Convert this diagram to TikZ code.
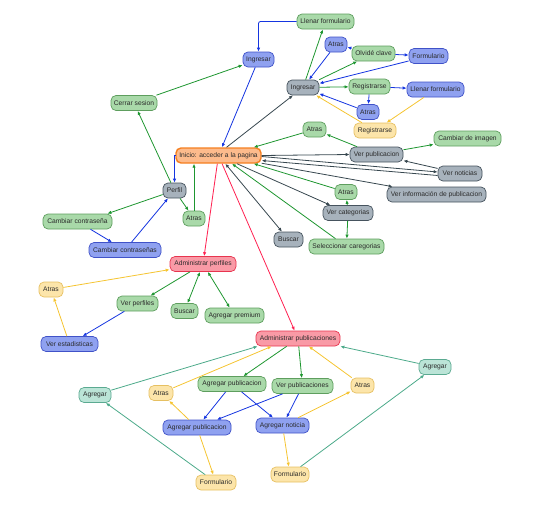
\documentclass[tikz,border=0pt]{standalone}
\usepackage{fontspec}
\setmainfont{Liberation Sans}
\usetikzlibrary{arrows.meta}
\definecolor{txt}{HTML}{2A2A2A}
\definecolor{gfill}{HTML}{A9D9A9}
\definecolor{gdraw}{HTML}{5E9E5E}
\definecolor{bfill}{HTML}{8FA1F0}
\definecolor{bdraw}{HTML}{4052C8}
\definecolor{sfill}{HTML}{A7B2BC}
\definecolor{sdraw}{HTML}{46535E}
\definecolor{ofill}{HTML}{FDBB8C}
\definecolor{odraw}{HTML}{F57F20}
\definecolor{rfill}{HTML}{F99AA6}
\definecolor{rdraw}{HTML}{E8344F}
\definecolor{yfill}{HTML}{FCE5AA}
\definecolor{ydraw}{HTML}{E6C062}
\definecolor{tfill}{HTML}{BBE4D7}
\definecolor{tdraw}{HTML}{5BAA91}
\definecolor{egc}{HTML}{1E9630}
\definecolor{ebc}{HTML}{1535E0}
\definecolor{esc}{HTML}{37474F}
\definecolor{erc}{HTML}{FF2050}
\definecolor{eyc}{HTML}{F5C431}
\definecolor{etc}{HTML}{4CAA8A}
\begin{document}
\begin{tikzpicture}[x=1pt,y=-1pt,
  box/.style={draw, rounded corners=5pt, minimum height=15pt, inner xsep=1.5pt, inner ysep=1pt,
    font=\fontsize{6.7}{7.5}\selectfont, text=txt, line width=0.7pt},
  gn/.style={box, fill=gfill, draw=gdraw},
  bn/.style={box, fill=bfill, draw=bdraw},
  sn/.style={box, fill=sfill, draw=sdraw},
  on/.style={box, fill=ofill, draw=odraw, line width=1.4pt},
  rn/.style={box, fill=rfill, draw=rdraw},
  yn/.style={box, fill=yfill, draw=ydraw},
  tn/.style={box, fill=tfill, draw=tdraw},
  conn/.style={line width=0.8pt, -{Latex[length=4pt,width=3.4pt]}},
  conn2/.style={line width=0.8pt, {Latex[length=4pt,width=3.4pt]}-{Latex[length=4pt,width=3.4pt]}},
  eg/.style={conn, draw=egc}, eg2/.style={conn2, draw=egc},
  eb/.style={conn, draw=ebc},
  es/.style={conn, draw=esc}, es2/.style={conn2, draw=esc},
  er/.style={conn, draw=erc},
  ey/.style={conn, draw=eyc},
  et/.style={conn, draw=etc}]
\useasboundingbox (0,0) rectangle (540,507);
% nodes
\node[gn, minimum width=57pt] (lfg) at (325.5,21.5) {Llenar formulario};
\node[bn, minimum width=31pt] (ingb) at (258.5,59.5) {Ingresar};
\node[gn, minimum width=46pt] (cerrar) at (134,103) {Cerrar sesion};
\node[sn, minimum width=32pt] (ingg) at (303,87.5) {Ingresar};
\node[bn, minimum width=22pt] (atrb1) at (336,44.5) {Atras};
\node[gn, minimum width=43pt] (olv) at (373.5,53.5) {Olvidé clave};
\node[bn, minimum width=39pt] (formb) at (428.5,56) {Formulario};
\node[gn, minimum width=41pt] (regg) at (369.5,86.5) {Registrarse};
\node[bn, minimum width=57pt] (lfb) at (435.5,89.5) {Llenar formulario};
\node[bn, minimum width=22pt] (atrb2) at (368,112) {Atras};
\node[yn, minimum width=42pt] (regy) at (375,130.5) {Registrarse};
\node[gn, minimum width=23pt] (atrg1) at (314.5,129.5) {Atras};
\node[gn, minimum width=67pt] (camimg) at (467.5,138.5) {Cambiar de imagen};
\node[on, minimum width=85pt] (inicio) at (218.5,155.5) {Inicio: acceder a la pagina};
\node[sn, minimum width=53pt] (vpub) at (376.5,154.5) {Ver publicacion};
\node[sn, minimum width=44pt] (vnot) at (460,173.5) {Ver noticias};
\node[sn, minimum width=99pt] (vinfo) at (436.5,194.5) {Ver información de publicacion};
\node[gn, minimum width=22pt] (atrvc) at (346,192) {Atras};
\node[sn, minimum width=50pt] (vcat) at (348,213) {Ver categorias};
\node[gn, minimum width=75pt] (selcat) at (346.5,246.5) {Seleccionar caregorias};
\node[sn, minimum width=29pt] (buscar1) at (288.5,239.5) {Buscar};
\node[sn, minimum width=23pt] (perfil) at (174.5,190.5) {Perfil};
\node[gn, minimum width=22pt] (atrp) at (194,218.5) {Atras};
\node[gn, minimum width=69pt] (ccontra) at (77.5,221.5) {Cambiar contraseña};
\node[bn, minimum width=72pt] (ccontras) at (125,250) {Cambiar contraseñas};
\node[rn, minimum width=66pt] (admperf) at (203,264) {Administrar perfiles};
\node[yn, minimum width=24pt] (atry1) at (51,289.5) {Atras};
\node[gn, minimum width=41pt] (vperf) at (137.5,303.5) {Ver perfiles};
\node[gn, minimum width=27pt] (buscar2) at (184.5,311) {Buscar};
\node[gn, minimum width=59pt] (agprem) at (234.5,315.5) {Agregar premium};
\node[bn, minimum width=57pt] (vest) at (69.5,344) {Ver estadisticas};
\node[rn, minimum width=84pt] (admpub) at (298,338.5) {Administrar publicaciones};
\node[tn, minimum width=32pt] (agrt2) at (435,367) {Agregar};
\node[tn, minimum width=32pt] (agrt1) at (95,395) {Agregar};
\node[yn, minimum width=24pt] (atry2) at (161,393) {Atras};
\node[gn, minimum width=68pt] (agpubg) at (232,384) {Agregar publicacion};
\node[gn, minimum width=61pt] (vpubs) at (302.5,386) {Ver publicaciones};
\node[yn, minimum width=23pt] (atry3) at (362.5,385.5) {Atras};
\node[bn, minimum width=68pt] (agpubb) at (197,427.5) {Agregar publicacion};
\node[bn, minimum width=53pt] (agnot) at (282.5,425.5) {Agregar noticia};
\node[yn, minimum width=40pt] (formy1) at (216,482.5) {Formulario};
\node[yn, minimum width=38pt] (formy2) at (290,474.5) {Formulario};
% top connectors
\draw[eb, rounded corners=2pt] (lfg.west) -| (ingb.north);
\draw[eg] (ingg) -- (lfg);
\draw[eb] (atrb1) -- (ingg);
\draw[eb] (olv) -- (atrb1);
\draw[eg] (ingg) -- (olv);
\draw[eb] (olv) -- (formb);
\draw[eb] (formb) -- (ingg);
\draw[eg] (ingg) -- (regg);
\draw[eb] (regg) -- (lfb);
\draw[eb] (regg) -- (atrb2);
\draw[eb] (atrb2) -- (ingg);
\draw[ey] (lfb) -- (regy);
\draw[ey] (regy) -- (ingg);
\draw[es] ([xshift=8pt]inicio.north) -- (ingg);
\draw[eb] (ingb) -- (inicio);
\draw[eg] (cerrar) -- (ingb);
\draw[eg] (perfil) -- (cerrar);
\draw[eb] (inicio.west) -| (perfil.north);
\draw[eg] (perfil) -- (atrp);
\draw[eg] (atrp.north) -- (atrp.north |- inicio.south);
\draw[eg] (perfil) -- ([xshift=-5pt]ccontra.north east);
\draw[eb] (ccontra) -- (ccontras);
\draw[eb] (ccontras) -- (perfil);
\draw[er] (inicio) -- (admperf);
\draw[er] (inicio) -- (admpub);
\draw[ey] (atry1) -- (admperf);
\draw[eg] (admperf) -- (vperf);
\draw[eg2] (admperf) -- (buscar2);
\draw[eg2] (admperf) -- (agprem);
\draw[eb] (vperf) -- (vest);
\draw[ey] (vest) -- (atry1);
% right connectors
\draw[es] (inicio.east) -- (vpub.west);
\draw[eg] (vpub) -- (atrg1);
\draw[eg] (atrg1) -- ([xshift=-8pt]inicio.north east);
\draw[eg] (vpub) -- (camimg);
\draw[es] ([yshift=-1pt]inicio.east) -- ([yshift=1.5pt]vnot.west);
\draw[es] ([yshift=-2pt]vnot.west) -- ([yshift=-5pt]inicio.east);
\draw[es] (vnot) -- (vpub);
\draw[es] (inicio) -- (vinfo);
\draw[es2] (inicio) -- (buscar1);
\draw[es] (inicio) -- (vcat);
\draw[eg] (atrvc) -- ([xshift=-8pt]inicio.south east);
\draw[eg] ([xshift=-11pt]selcat.north) -- ([xshift=13.5pt]inicio.south);
\draw[eg] (vcat) -- (atrvc);
\draw[eg] (vcat) -- (selcat);
% bottom connectors
\draw[eg] (admpub) -- (agpubg);
\draw[eg] (admpub) -- (vpubs);
\draw[ey] (atry3) -- (admpub);
\draw[et] (agrt2) -- (admpub.south east);
\draw[et] (formy2) -- (agrt2);
\draw[et] (agrt1) -- ([xshift=2pt]admpub.south west);
\draw[ey] (atry2) -- ([xshift=16pt]admpub.south west);
\draw[et] (formy1) -- (agrt1);
\draw[ey] (agpubb) -- (atry2);
\draw[ey] (agpubb) -- (formy1);
\draw[eb] (agpubg) -- (agpubb);
\draw[eb] (agpubg) -- (agnot);
\draw[eb] (vpubs) -- (agpubb);
\draw[eb] (vpubs) -- (agnot);
\draw[ey] (agnot) -- (atry3);
\draw[ey] (agnot) -- (formy2);
\end{tikzpicture}
\end{document}
